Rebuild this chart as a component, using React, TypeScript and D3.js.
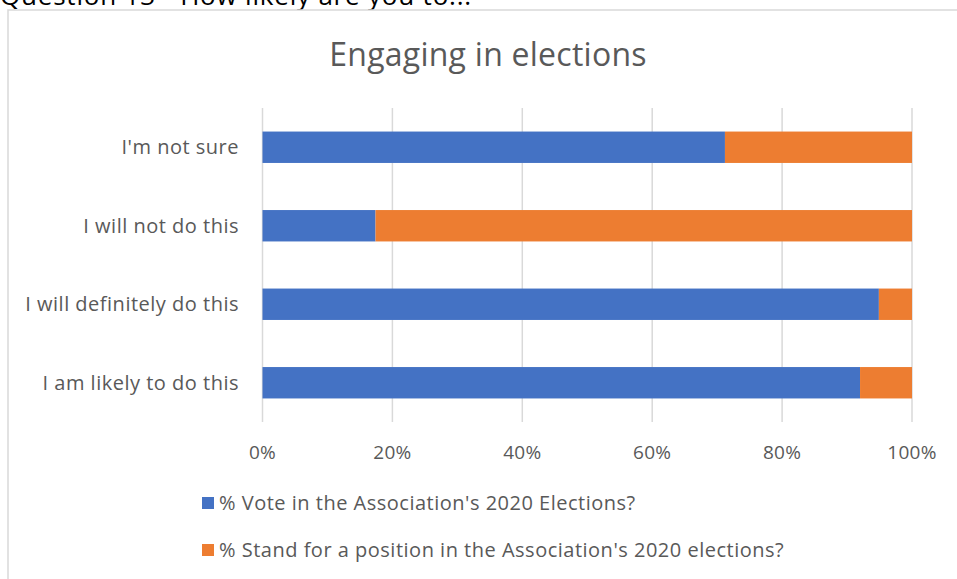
import React from "react";
import * as d3 from "d3";

const categories = ["I'm not sure", "I will not do this", "I will definitely do this", "I am likely to do this"];
const voteValues = [71.2, 17.4, 94.9, 92.0];
const standValues = [28.8, 82.6, 5.1, 8.0];
const seriesNames = [
  "% Vote in the Association's 2020 Elections?",
  "% Stand for a position in the Association's 2020 elections?",
];
const seriesColors = ["#4472C4", "#ED7D31"];
const xTicks = [0, 20, 40, 60, 80, 100];

const W = 957;
const H = 579;
const FONT = "'Open Sans', 'Liberation Sans', sans-serif";

export default function App() {
  const x = d3.scaleLinear().domain([0, 100]).range([262.5, 912]);
  const y = d3.scaleBand().domain(categories).range([108, 422]).paddingInner(0.6).paddingOuter(0.3);
  const stack = d3.stack<any>().keys(["vote", "stand"]);
  const rows = categories.map((c, i) => ({ cat: c, vote: voteValues[i], stand: standValues[i] }));
  const series = stack(rows);

  return (
    <div style={{ position: "absolute", left: 0, top: 0 }}>
      <svg width={W} height={H} style={{ display: "block", background: "#fff" }}>
        <text x={0} y={5} fontFamily={FONT} fontSize={26} letterSpacing={0.8} fill="#000">
          Question 13 - How likely are you to...
        </text>
        <rect x={8} y={10} width={W + 20} height={H + 20} fill="#fff" stroke="#D9D9D9" strokeWidth={1.5} />
        <text x={488} y={66} textAnchor="middle" fontFamily={FONT} fontSize={32} letterSpacing={0.25} fill="#595959">
          Engaging in elections
        </text>
        {xTicks.map((t) => (
          <line key={t} x1={x(t)} x2={x(t)} y1={108} y2={422} stroke="#D9D9D9" strokeWidth={1.5} />
        ))}
        {series.map((s, si) =>
          s.map((d, i) => (
            <rect
              key={si + "-" + i}
              x={x(d[0])}
              width={x(d[1]) - x(d[0])}
              y={y(categories[i])!}
              height={y.bandwidth()}
              fill={seriesColors[si]}
            />
          ))
        )}
        {categories.map((c) => (
          <text
            key={c}
            x={239}
            y={y(c)! + y.bandwidth() / 2}
            dy="0.35em"
            textAnchor="end"
            fontFamily={FONT}
            fontSize={20}
            letterSpacing={0.5}
            fill="#595959"
          >
            {c}
          </text>
        ))}
        {xTicks.map((t) => (
          <text key={"l" + t} x={x(t)} y={459} textAnchor="middle" fontFamily={FONT} fontSize={19} letterSpacing={0.3} fill="#595959">
            {t + "%"}
          </text>
        ))}
        {seriesNames.map((n, i) => (
          <g key={n}>
            <rect x={202} y={497 + i * 47} width={12} height={12} fill={seriesColors[i]} />
            <text x={219} y={510 + i * 47} fontFamily={FONT} fontSize={20} letterSpacing={0.5} fill="#595959">
              {n}
            </text>
          </g>
        ))}
      </svg>
    </div>
  );
}
